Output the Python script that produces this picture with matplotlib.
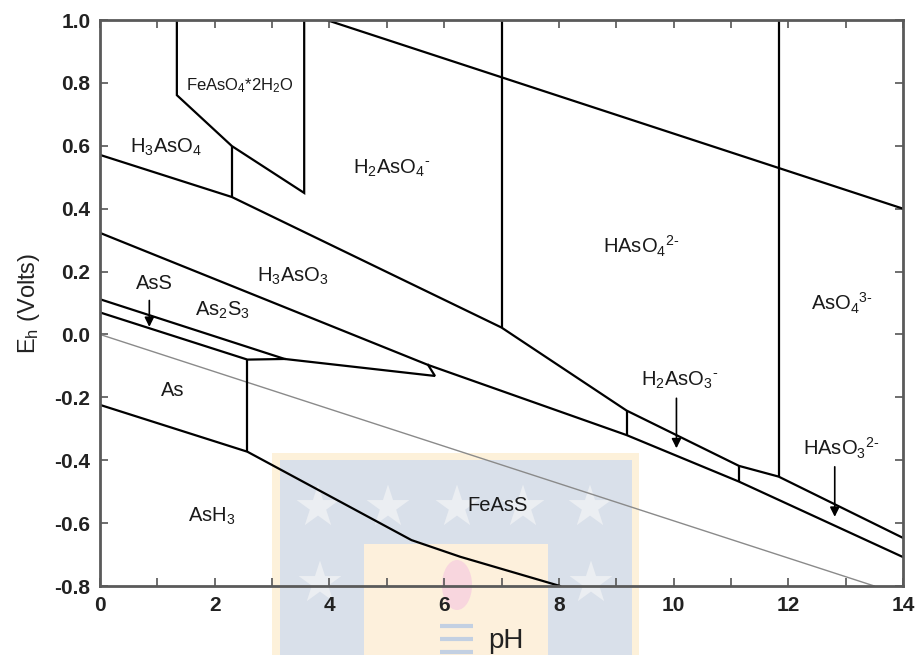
import matplotlib
matplotlib.use("Agg")
import matplotlib.pyplot as plt
from matplotlib.patches import Rectangle, Ellipse
from matplotlib.ticker import MultipleLocator, FormatStrFormatter

plt.rcParams['font.family'] = ['Liberation Sans', 'DejaVu Sans']
plt.rcParams['mathtext.fontset'] = 'custom'
plt.rcParams['mathtext.rm'] = 'Liberation Sans'
plt.rcParams['mathtext.it'] = 'Liberation Sans:italic'
plt.rcParams['mathtext.bf'] = 'Liberation Sans:bold'
plt.rcParams['mathtext.default'] = 'regular'
plt.rcParams['axes.unicode_minus'] = False

# ---- phase boundaries (pH, Eh in volts) ----
# scorodite field
scorodite_ph = [1.34, 1.34, 2.30, 3.56, 3.56]
scorodite_eh = [1.00, 0.761, 0.599, 0.450, 1.00]

# As(V) / As(III) boundary
arsenate_ph = [0.0, 2.30, 7.00, 9.18, 11.14, 11.83, 14.0]
arsenate_eh = [0.571, 0.437, 0.022, -0.242, -0.418, -0.452, -0.647]

# As(III) / sulfide boundary
arsenite_ph = [0.0, 5.72, 9.18, 11.14, 14.0]
arsenite_eh = [0.323, -0.097, -0.320, -0.468, -0.708]

# upper edge of the AsS strip, closing the As2S3 wedge
ass_upper_ph = [0.0, 3.22, 5.84, 5.72]
ass_upper_eh = [0.112, -0.078, -0.132, -0.097]

# lower edge of the AsS strip
ass_lower_ph = [0.0, 2.57, 3.22]
ass_lower_eh = [0.070, -0.080, -0.078]

# As / AsH3 and FeAsS / AsH3 boundary
arsine_ph = [0.0, 2.57, 5.43, 6.28, 8.02]
arsine_eh = [-0.224, -0.373, -0.654, -0.707, -0.800]

# vertical acid-base boundaries: pH, lower Eh, upper Eh
vert_ph = [2.30, 2.57, 7.00, 9.18, 11.14, 11.83]
vert_lo = [0.437, -0.373, 0.022, -0.320, -0.468, -0.452]
vert_hi = [0.599, -0.080, 1.000, -0.242, -0.418, 1.000]

# water stability limits
o2_ph = [3.95, 14.0]
o2_eh = [1.00, 0.40]
h2_ph = [0.0, 13.5]
h2_eh = [0.00, -0.80]

# field labels
labels = [
    (r'H$_3$AsO$_4$', 1.15, 0.596, 14.5),
    (r'FeAsO$_4$*2H$_2$O', 2.44, 0.790, 12),
    (r'H$_2$AsO$_4$$^{\text{-}}$', 5.09, 0.529, 14.5),
    (r'HAsO$_4$$^{2\text{-}}$', 9.44, 0.279, 14.5),
    (r'AsO$_4$$^{3\text{-}}$', 12.93, 0.100, 14.5),
    (r'H$_3$AsO$_3$', 3.36, 0.184, 14.5),
    ('AsS', 0.94, 0.163, 14.5),
    (r'As$_2$S$_3$', 2.14, 0.078, 14.5),
    ('As', 1.26, -0.179, 14.5),
    (r'AsH$_3$', 1.95, -0.580, 14.5),
    ('FeAsS', 6.94, -0.543, 14.5),
    (r'H$_2$AsO$_3$$^{\text{-}}$', 10.11, -0.145, 14.5),
    (r'HAsO$_3$$^{2\text{-}}$', 12.92, -0.362, 14.5),
]

# pointer arrows: pH, Eh start, Eh tip
arrow_ph = [0.86, 10.05, 12.81]
arrow_from = [0.108, -0.203, -0.421]
arrow_to = [0.024, -0.362, -0.580]

W, H = 917, 655
fig = plt.figure(figsize=(W / 100, H / 100), dpi=100, facecolor='white')

# background logo
bg = fig.add_axes([0, 0, 1, 1], zorder=0)
bg.set_xlim(0, W)
bg.set_ylim(H, 0)
bg.axis('off')
bg.add_patch(Rectangle((272, 453), 367, 210, color='#fdf1da', lw=0))
bg.add_patch(Rectangle((280, 460), 352, 210, color='#d9e0ea', lw=0))
bg.add_patch(Rectangle((364, 544), 184, 120, color='#fdf0dc', lw=0))
bg.scatter([318, 388, 457, 523, 590, 320, 591], [507, 507, 507, 507, 507, 583, 583],
           marker='*', s=1050, color='#ebeef2', edgecolors='none')
bg.add_patch(Ellipse((457, 585), 30, 50, color='#f8d6de', lw=0))
for yy in [626, 639, 652]:
    bg.plot([440, 473], [yy, yy], color='#c3d0e2', lw=3, solid_capstyle='butt')

ax = fig.add_axes([100 / W, 1 - 586 / H, 803 / W, 566 / H], zorder=1)
ax.set_facecolor('none')
ax.set_xlim(0, 14)
ax.set_ylim(-0.8, 1.0)

lk = dict(color='black', lw=1.6, solid_joinstyle='miter')
ax.plot(h2_ph, h2_eh, color='#8a8a8a', lw=1.0)
ax.plot(o2_ph, o2_eh, **lk)
ax.plot(scorodite_ph, scorodite_eh, **lk)
ax.plot(arsenate_ph, arsenate_eh, **lk)
ax.plot(arsenite_ph, arsenite_eh, **lk)
ax.plot(ass_upper_ph, ass_upper_eh, **lk)
ax.plot(ass_lower_ph, ass_lower_eh, **lk)
ax.plot(arsine_ph, arsine_eh, **lk)
ax.vlines(vert_ph, vert_lo, vert_hi, color='black', lw=1.6)

for txt, x, y, fs in labels:
    ax.text(x, y, txt, fontsize=fs, ha='center', va='center', color='#1a1a1a')

for x, y0, y1 in zip(arrow_ph, arrow_from, arrow_to):
    ax.annotate('', xy=(x, y1), xytext=(x, y0),
                arrowprops=dict(arrowstyle='-|>', color='black', lw=1.2,
                                mutation_scale=14, shrinkA=0, shrinkB=0))

ax.xaxis.set_major_locator(MultipleLocator(2))
ax.xaxis.set_minor_locator(MultipleLocator(1))
ax.yaxis.set_major_locator(MultipleLocator(0.2))
ax.xaxis.set_major_formatter(FormatStrFormatter('%d'))
ax.yaxis.set_major_formatter(FormatStrFormatter('%.1f'))
ax.tick_params(which='both', direction='in', top=True, right=True,
               length=6, width=1.2, color='#555555')
ax.tick_params(which='major', labelsize=15, pad=7, labelcolor='#222222')
for lab in ax.get_xticklabels() + ax.get_yticklabels():
    lab.set_fontweight('bold')
for sp in ax.spines.values():
    sp.set_color('#5a5a5a')
    sp.set_linewidth(2)

ax.set_xlabel('pH', fontsize=20, color='#222222')
ax.xaxis.set_label_coords(0.506, -0.075)
ax.set_ylabel(r'E$_\mathrm{h}$ (Volts)', fontsize=17, color='#222222')
ax.yaxis.set_label_coords(-0.072, 0.5)

fig.savefig('out.png', dpi=100, facecolor='white')
